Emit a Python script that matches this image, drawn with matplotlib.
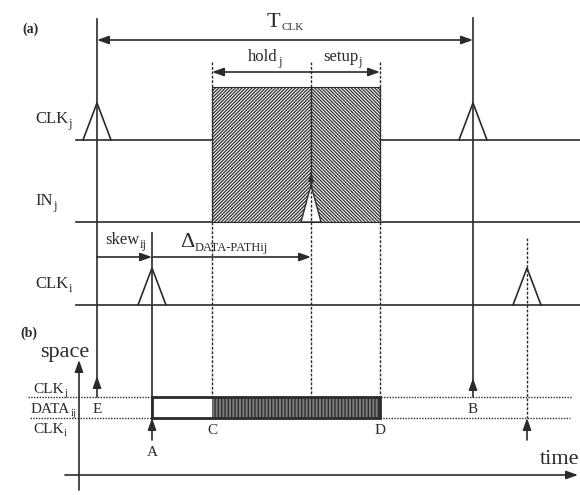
import matplotlib
matplotlib.use('Agg')
import matplotlib.pyplot as plt
from matplotlib.patches import Rectangle

plt.rcParams['font.family'] = ['Liberation Serif', 'DejaVu Serif']
plt.rcParams['hatch.linewidth'] = 0.9
plt.rcParams['hatch.color'] = '#2a2a2a'

# times on the diagram (pixel scale of the original figure)
clk_j_edges = [97, 473]
clk_i_edges = [152, 527]
window = [212, 311, 380]          # hold start, sampling edge, setup end
in_j_pulse = 311
point_names = ['E', 'A', 'C', 'D', 'B']
point_times = [97, 152, 212, 380, 473]

INK = '#2b2b2b'

fig = plt.figure(figsize=(5.8, 4.95), dpi=100)
ax = fig.add_axes([0, 0, 1, 1])
ax.set_xlim(0, 580)
ax.set_ylim(495, 0)
ax.axis('off')
renderer = fig.canvas.get_renderer()


def label(x, y, main, sub='', size=11, subsize=8, drop=4, **kw):
    t = ax.text(x, y, main, fontsize=size, va='baseline', ha='left', color=INK, **kw)
    if sub:
        bb = t.get_window_extent(renderer)
        x1 = ax.transData.inverted().transform((bb.x1, 0))[0]
        ax.text(x1 + 0.5, y + drop, sub, fontsize=subsize, va='baseline', ha='left', color=INK)


def arrow(x0, y0, x1, y1, style='-|>', lw=1.2, hl=0.7, hw=0.25):
    ax.annotate('', xy=(x1, y1), xytext=(x0, y0),
                arrowprops=dict(arrowstyle=style + ',head_length=%g,head_width=%g' % (hl, hw),
                                color=INK, lw=lw, shrinkA=0, shrinkB=0), zorder=5)


def tri(x, base, h=37, w=14):
    ax.plot([x - w, x, x + w], [base, base - h, base], color=INK, lw=1.2)


# ---- (a) waveforms
label(22, 33, '(a)', size=10, weight='bold')
rows = [('CLK', 'j', 140), ('IN', 'j', 222), ('CLK', 'i', 305)]
for name, sub, y in rows:
    ax.plot([76, 580], [y, y], color=INK, lw=1.2)
    label(35, y - 17, name, sub, size=12, subsize=9)

# hatched hold/setup window (covers the CLK_j line)
ax.add_patch(Rectangle((window[0], 87), window[1] - window[0], 222 - 87,
                       facecolor='white', edgecolor=INK, hatch='/' * 10, lw=0.8, zorder=3))
ax.add_patch(Rectangle((window[1], 87), window[2] - window[1], 222 - 87,
                       facecolor='white', edgecolor=INK, hatch='\\' * 10, lw=0.8, zorder=3))
# IN_j data arrival pulse
ax.add_patch(plt.Polygon([[in_j_pulse - 10, 222], [in_j_pulse, 185], [in_j_pulse + 10, 222]],
                         facecolor='white', edgecolor=INK, lw=1.0, zorder=4))
arrow(in_j_pulse, 186, in_j_pulse, 172, lw=1.0, hl=0.5, hw=0.15)

# clock edges
for x in clk_j_edges:
    tri(x, 140)
for x in clk_i_edges:
    tri(x, 305)

# clock period
ax.plot([clk_j_edges[0]] * 2, [19, 378], color=INK, lw=1.2)
ax.plot([clk_j_edges[1]] * 2, [18, 380], color=INK, lw=1.2)
arrow(clk_j_edges[0], 40, clk_j_edges[1], 40, style='<|-|>')
label(267, 27, 'T', 'CLK', size=16, subsize=8, drop=3)

# hold / setup
for x in window:
    ax.plot([x, x], [62, 397], color=INK, lw=1.0, ls=(0, (2, 1.2)), zorder=4)
arrow(window[1], 72, window[0], 72)
arrow(window[1], 72, window[2], 72)
label(248, 61, 'hold', 'j', size=12, subsize=9)
label(323, 61, 'setup', 'j', size=12, subsize=9)

# skew and data path
ax.plot([clk_i_edges[0]] * 2, [233, 418], color=INK, lw=1.2)
ax.plot([clk_i_edges[1]] * 2, [238, 418], color=INK, lw=1.0, ls=(0, (2, 1.2)))
arrow(clk_j_edges[0], 257, clk_i_edges[0], 257)
arrow(clk_i_edges[0], 257, in_j_pulse, 257)
label(105, 244, 'skew', 'ij', size=12, subsize=9)
label(180, 247, '\u0394', 'DATA-PATHij', size=16, subsize=9, drop=4)

# ---- (b) space-time diagram
label(20, 337, '(b)', size=10, weight='bold')
arrow(79, 490, 79, 360)
arrow(65, 475, 578, 475)
label(40, 357, 'space', size=16)
label(540, 464, 'time', size=16)

ax.plot([28, 572], [397, 397], color=INK, lw=1.0, ls=(0, (1, 1)))
ax.plot([30, 570], [418, 418], color=INK, lw=1.0, ls=(0, (1, 1)))
label(33, 393, 'CLK', 'j', size=11, subsize=8, drop=3)
label(31, 413, 'DATA', 'ij', size=11, subsize=8, drop=3)
label(33, 433, 'CLK', 'i', size=11, subsize=8, drop=3)

ax.add_patch(Rectangle((window[0], 397), window[2] - window[0], 21,
                       facecolor='#7a7a7a', edgecolor=INK, hatch='|||||', lw=0, zorder=4))
ax.add_patch(Rectangle((clk_i_edges[0], 397), window[2] - clk_i_edges[0], 21,
                       facecolor='none', edgecolor=INK, lw=2.0, zorder=5))

arrow(clk_j_edges[0], 397, clk_j_edges[0], 376)
arrow(clk_j_edges[1], 397, clk_j_edges[1], 378)
arrow(clk_i_edges[0], 440, clk_i_edges[0], 418)
arrow(clk_i_edges[1], 440, clk_i_edges[1], 418)

label_y = {'E': 413, 'B': 413, 'A': 456, 'C': 434, 'D': 434}
for name, x in zip(point_names, point_times):
    ax.text(x, label_y[name], name, fontsize=11, ha='center', va='baseline', color=INK)

fig.savefig('out.png', dpi=100, facecolor='white')
